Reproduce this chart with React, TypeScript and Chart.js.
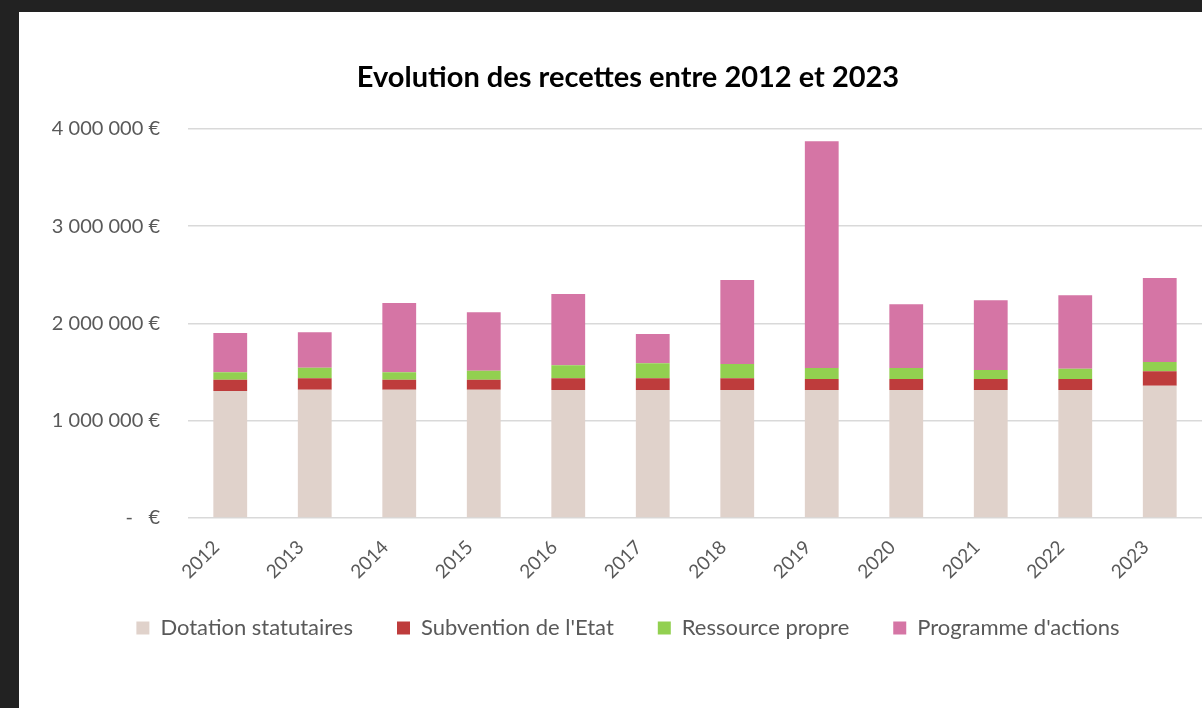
import React, { useEffect, useRef } from "react";
import { Chart, registerables } from "chart.js";

Chart.register(...registerables);

const years = ["2012", "2013", "2014", "2015", "2016", "2017", "2018", "2019", "2020", "2021", "2022", "2023"];
const dotation = [1306000, 1319000, 1319000, 1319000, 1316000, 1316000, 1316000, 1316000, 1316000, 1316000, 1316000, 1360000];
const subvention = [116000, 117000, 102000, 102000, 120000, 120000, 120000, 113000, 113000, 113000, 113000, 148000];
const ressource = [76000, 109000, 76000, 93000, 133000, 154000, 147000, 113000, 113000, 92000, 105000, 95000];
const programme = [404000, 364000, 713000, 600000, 733000, 301000, 863000, 2330000, 655000, 716000, 755000, 864000];
const seriesNames = ["Dotation statutaires", "Subvention de l'Etat", "Ressource propre", "Programme d'actions"];
const seriesColors = ["#E0D2CB", "#BE3C3C", "#92D050", "#D575A5"];
const titleText = "Evolution des recettes entre 2012 et 2023";

const FONT = "Lato";

function fmtEuro(v: number): string {
  if (v === 0) return "-   €";
  const s = Math.round(v).toString().replace(/\B(?=(\d{3})+(?!\d))/g, " ");
  return s + " €";
}

export default function App() {
  const ref = useRef<HTMLCanvasElement | null>(null);
  useEffect(() => {
    if (!ref.current) return;
    const values = [dotation, subvention, ressource, programme];
    const chart = new Chart(ref.current, {
      type: "bar",
      data: {
        labels: years,
        datasets: values.map((d, i) => ({
          label: seriesNames[i],
          data: d,
          backgroundColor: seriesColors[i],
          borderWidth: 0,
          barPercentage: 0.4,
          categoryPercentage: 1,
        })),
      },
      options: {
        animation: false,
        responsive: false,
        maintainAspectRatio: false,
        layout: { padding: { left: 0, right: 0, top: 0, bottom: 59 } },
        plugins: {
          title: {
            display: true,
            text: titleText,
            color: "#000000",
            font: { family: FONT, size: 29, weight: "bold" },
            padding: { top: 48, bottom: 34 },
          },
          legend: {
            display: true,
            position: "bottom",
            labels: {
              boxWidth: 13,
              boxHeight: 13,
              padding: 44,
              color: "#595959",
              font: { family: FONT, size: 22 },
            },
          },
          tooltip: { enabled: false },
        },
        scales: {
          x: {
            stacked: true,
            grid: { display: false, drawTicks: false },
            border: { display: false },
            ticks: {
              color: "#595959",
              font: { family: FONT, size: 19 },
              minRotation: 45,
              maxRotation: 45,
              padding: 18,
              labelOffset: -14,
            },
            afterFit: (s: any) => {
              s.height = 55;
              s._computeLabelArea = () => undefined;
            },
          },
          y: {
            stacked: true,
            min: 0,
            max: 4000000,
            border: { display: false },
            grid: { color: "#D9D9D9", lineWidth: 1.5, drawTicks: false },
            ticks: {
              stepSize: 1000000,
              color: "#595959",
              font: { family: FONT, size: 20 },
              padding: 28,
              callback: (v: any) => fmtEuro(Number(v)),
            },
            afterFit: (s: any) => {
              s.width = 169;
            },
          },
          yr: {
            position: "right",
            display: true,
            grid: { display: false, drawTicks: false },
            border: { display: false },
            ticks: { display: false },
            afterFit: (s: any) => {
              s.width = 35;
            },
          },
        },
      },
    });
    return () => chart.destroy();
  }, []);

  return (
    <div style={{ position: "fixed", left: 0, top: 0, width: 1202, height: 708, background: "#222222", overflow: "hidden" }}>
      <div style={{ position: "absolute", left: 19, top: 12, width: 1218, height: 696, background: "#FFFFFF" }}>
        <canvas ref={ref} width={1218} height={696} style={{ display: "block" }} />
      </div>
    </div>
  );
}
